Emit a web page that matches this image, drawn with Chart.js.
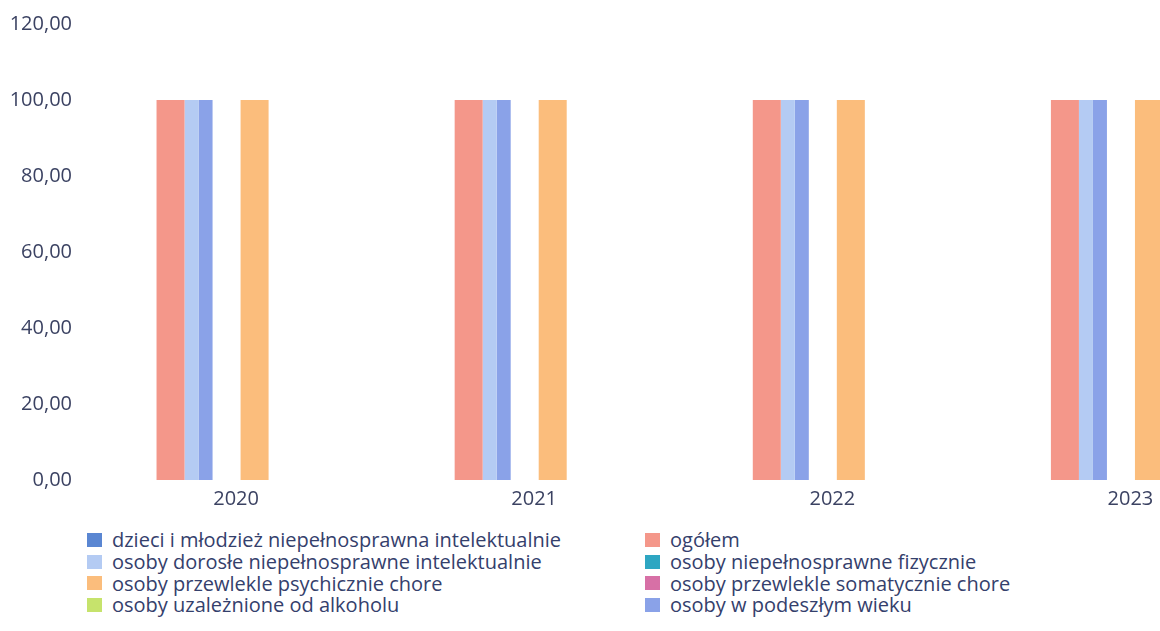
<!DOCTYPE html>
<html lang="pl">
<head>
<meta charset="utf-8">
<script src="https://cdn.jsdelivr.net/npm/chart.js@4/dist/chart.umd.min.js"></script>
<style>
	html, body { margin: 0; padding: 0; background: #fff; width: 1160px; height: 631px; overflow: hidden; }
	#wrap { position: absolute; left: 0; top: 0; width: 1256px; height: 520px; }
	#legenda {
		position: absolute; left: 87px; top: 529px;
		display: grid; grid-template-columns: 558px auto; grid-template-rows: repeat(4, 21.7px);
		grid-auto-flow: column;
		font-family: 'Open Sans', sans-serif; font-size: 20px; color: #34406c;
	}
	#legenda div { display: flex; align-items: center; white-space: nowrap; }
	#legenda span.box { display: inline-block; width: 15px; height: 14px; margin-right: 10px; }
</style>
</head>
<body>
<div id="wrap"><canvas id="grafikSlupkowy"></canvas></div>
<div id="legenda"></div>
<script>
lata = ['2020', '2021', '2022', '2023']

ogolem = [100, 100, 100, 100]
dzieci = [0, 0, 0, 0]
dorosle = [100, 100, 100, 100]
fizycznie = [0, 0, 0, 0]
psychicznie = [100, 100, 100, 100]
somatycznie = [0, 0, 0, 0]
uzaleznione = [0, 0, 0, 0]
podeszlyWiek = [100, 100, 100, 100]

// kolejnosc w legendzie (dwie kolumny)
nazwy = [
	'dzieci i młodzież niepełnosprawna intelektualnie',
	'osoby dorosłe niepełnosprawne intelektualnie',
	'osoby przewlekle psychicznie chore',
	'osoby uzależnione od alkoholu',
	'ogółem',
	'osoby niepełnosprawne fizycznie',
	'osoby przewlekle somatycznie chore',
	'osoby w podeszłym wieku'
]
kolory = ['#5a86d2', '#b4cbf3', '#fbbd7c', '#c6e36c', '#f4978a', '#2ea6c2', '#d770a6', '#8aa2e8']
wartosci = [dzieci, dorosle, psychicznie, uzaleznione, ogolem, fizycznie, somatycznie, podeszlyWiek]

// kolejnosc slupkow w grupie
kolejnosc = [4, 5, 1, 7, 6, 3, 0, 2]

var szerokie = { categoryPercentage: 96 / 298, barPercentage: 28 / 12 }

var datasets = kolejnosc.map(function (i) {
	var ds = {
		label: nazwy[i],
		data: wartosci[i],
		backgroundColor: kolory[i],
		borderWidth: 0,
		categoryPercentage: 112 / 298,
		barPercentage: 1
	}
	if (i === 4 || i === 2) Object.assign(ds, szerokie)
	return ds
})

Chart.defaults.font.family = "'Open Sans', sans-serif"
Chart.defaults.font.size = 20
Chart.defaults.color = '#3b4262'

function formatuj(v) {
	return v.toFixed(2).replace('.', ',')
}

// etykiety osi Y wychodza poza obszar osi, wiec rysuje je jako mirror
var pomiar = document.createElement('canvas').getContext('2d')
pomiar.font = "20px 'Open Sans', sans-serif"
var najszersza = pomiar.measureText(formatuj(120)).width

var config = {
	type: 'bar',
	data: { labels: lata, datasets: datasets },
	options: {
		responsive: true,
		maintainAspectRatio: false,
		animation: false,
		layout: { padding: { top: 24, left: 0, right: 0, bottom: 0 } },
		plugins: {
			legend: { display: false },
			tooltip: { enabled: false }
		},
		scales: {
			x: {
				grid: { display: false, drawTicks: false },
				border: { display: false },
				ticks: { labelOffset: 23.5, padding: 7, maxRotation: 0, autoSkip: false },
				afterFit: function (s) { s.height = 40 }
			},
			y: {
				min: 0,
				max: 120,
				grid: { display: false, drawTicks: false },
				border: { display: false },
				ticks: {
					stepSize: 20,
					mirror: true,
					crossAlign: 'far',
					padding: 8.5 - najszersza,
					callback: formatuj
				},
				afterFit: function (s) { s.width = 63.5 }
			}
		}
	}
}

var ctx = document.getElementById('grafikSlupkowy').getContext('2d')
window.grafik = new Chart(ctx, config)

var leg = document.getElementById('legenda')
nazwy.forEach(function (n, i) {
	var d = document.createElement('div')
	var b = document.createElement('span')
	b.className = 'box'
	b.style.background = kolory[i]
	d.appendChild(b)
	d.appendChild(document.createTextNode(n))
	leg.appendChild(d)
})
</script>
</body>
</html>
